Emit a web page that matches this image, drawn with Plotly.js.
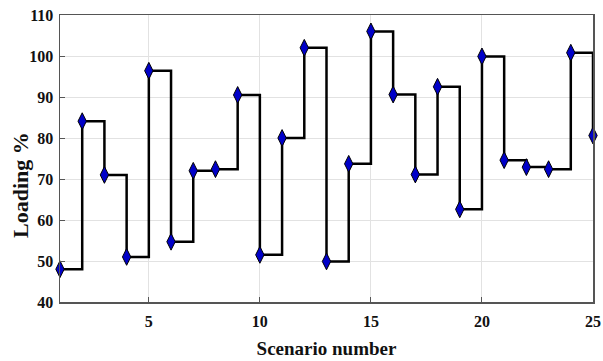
<!DOCTYPE html>
<html>
<head>
<meta charset="utf-8">
<script src="https://cdn.plot.ly/plotly-3.0.1.min.js"></script>
<style>
  html, body { margin: 0; padding: 0; background: #fff; }
  #chart { width: 603px; height: 361px; }
</style>
</head>
<body>
<div id="chart"></div>
<script>
// Transformer loading per scenario
const scenarios = [1, 2, 3, 4, 5, 6, 7, 8, 9, 10, 11, 12, 13, 14, 15, 16, 17, 18, 19, 20, 21, 22, 23, 24, 25];
const loading = [48, 84.1, 71, 51, 96.4, 54.7, 72, 72.4, 90.5, 51.5, 80, 102, 49.9, 73.7, 106, 90.6, 71.1, 92.5, 62.6, 99.9, 74.6, 72.9, 72.4, 100.8, 80.6];
const xTicks = [5, 10, 15, 20, 25];
const yTicks = [40, 50, 60, 70, 80, 90, 100, 110];

const serif = 'Liberation Serif, Times New Roman, serif';

const trace = {
  x: scenarios,
  y: loading,
  type: 'scatter',
  mode: 'lines+markers',
  line: { shape: 'hv', color: '#000', width: 2.5 },
  marker: { symbol: 'diamond-tall', size: 12, color: '#0000c8', line: { color: '#000', width: 1 } },
  cliponaxis: false,
  hoverinfo: 'x+y'
};

const axisCommon = {
  showline: true,
  mirror: true,
  linecolor: '#555',
  linewidth: 1.5,
  showgrid: true,
  gridcolor: '#e2e2e2',
  gridwidth: 1,
  zeroline: false,
  ticks: 'inside',
  ticklen: 5,
  tickcolor: '#555',
  tickfont: { family: serif, size: 16, color: '#111', weight: 'bold' }
};

const layout = {
  width: 603,
  height: 361,
  margin: { l: 60, r: 10, t: 15, b: 59 },
  paper_bgcolor: '#fff',
  plot_bgcolor: '#fff',
  showlegend: false,
  xaxis: Object.assign({}, axisCommon, {
    range: [1, 25],
    tickvals: xTicks,
    ticktext: xTicks.map(String),
    ticklabelstandoff: 4,
    title: { text: 'Scenario number', font: { family: serif, size: 19, color: '#111', weight: 'bold' }, standoff: 13 }
  }),
  yaxis: Object.assign({}, axisCommon, {
    range: [40, 110],
    tickvals: yTicks,
    ticktext: yTicks.map(String),
    ticklabelstandoff: 2
  }),
  // y-axis label placed as a rotated annotation so it can sit a little below centre
  annotations: [{
    text: 'Loading %',
    textangle: -90,
    xref: 'paper', yref: 'paper',
    x: -0.073, y: 0.408,
    xanchor: 'center', yanchor: 'middle',
    showarrow: false,
    font: { family: serif, size: 22, color: '#111', weight: 'bold' }
  }]
};

Plotly.newPlot('chart', [trace], layout, { displayModeBar: false, staticPlot: true });
</script>
</body>
</html>
